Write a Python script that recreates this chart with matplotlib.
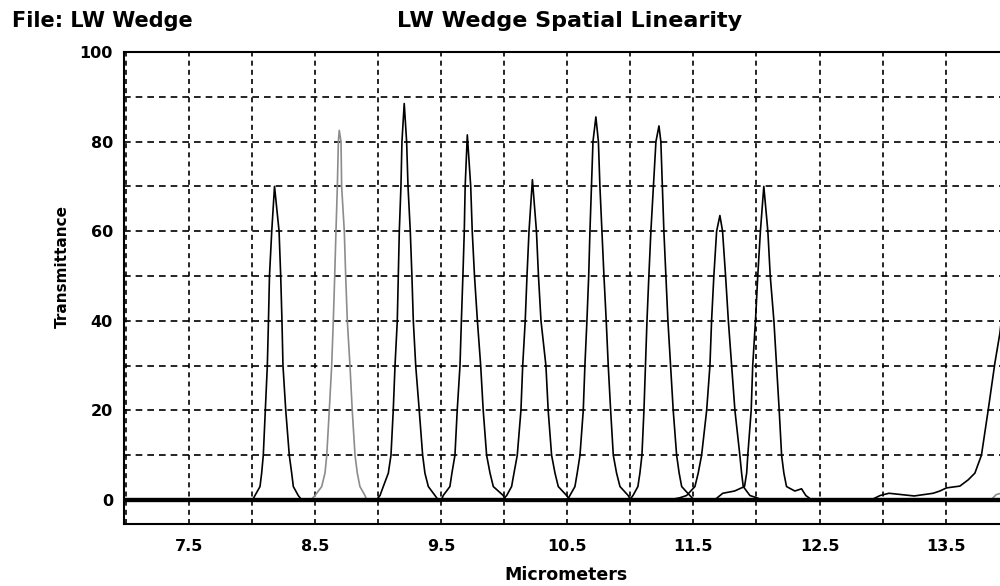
import matplotlib
matplotlib.use("Agg")
import matplotlib.pyplot as plt
from matplotlib.ticker import MultipleLocator, FixedLocator

plt.rcParams['font.family'] = ['DejaVu Sans']

# one trace per wedge position
x1 = [7.0, 8.010, 8.025, 8.065, 8.078, 8.091, 8.107, 8.123, 8.132, 8.140, 8.158, 8.180,
      8.216, 8.229, 8.239, 8.247, 8.269, 8.297, 8.316, 8.329, 8.368, 8.390, 14.0]
y1 = [0.2, 0.2, 1, 3, 6, 10, 20, 30, 40, 50, 60, 70,
      60, 50, 40, 30, 20, 10, 6, 3, 1, 0.2, 0.2]

x2 = [7.0, 8.461, 8.501, 8.554, 8.580, 8.594, 8.614, 8.633, 8.646, 8.657, 8.667, 8.678, 8.686, 8.693,
      8.707, 8.712, 8.733, 8.744, 8.757, 8.778, 8.796, 8.818, 8.836, 8.857, 8.897, 8.913,
      13.85, 13.90, 13.95]
y2 = [-0.2, -0.2, 1, 3, 6, 10, 20, 30, 40, 50, 60, 70, 80, 82.5,
      80, 70, 60, 50, 40, 30, 20, 10, 6, 3, 1, -0.2,
      -0.2, 1.2, 1.6]

x3 = [7.0, 8.990, 9.016, 9.042, 9.082, 9.103, 9.121, 9.135, 9.153, 9.161, 9.169, 9.182, 9.190, 9.208,
      9.227, 9.238, 9.256, 9.269, 9.280, 9.299, 9.327, 9.354, 9.372, 9.399, 9.452, 9.475, 14.0]
y3 = [0.1, 0.1, 1, 3, 6, 10, 20, 30, 40, 50, 60, 70, 80, 88.5,
      80, 70, 60, 50, 40, 30, 20, 10, 6, 3, 1, 0.1, 0.1]

x4 = [7.0, 9.499, 9.517, 9.570, 9.586, 9.610, 9.628, 9.650, 9.661, 9.673, 9.684, 9.691, 9.708,
      9.735, 9.747, 9.765, 9.788, 9.814, 9.834, 9.861, 9.888, 9.914, 9.993, 10.014, 14.0]
y4 = [-0.3, -0.3, 1, 3, 6, 10, 20, 30, 40, 50, 60, 70, 81.5,
      70, 60, 50, 40, 30, 20, 10, 6, 3, 1, -0.3, -0.3]

x5 = [7.0, 9.998, 10.020, 10.059, 10.078, 10.104, 10.133, 10.147, 10.167, 10.181, 10.197, 10.224,
      10.256, 10.272, 10.292, 10.331, 10.349, 10.376, 10.403, 10.429, 10.495, 10.513, 14.0]
y5 = [0.3, 0.3, 1, 3, 6, 10, 20, 30, 40, 50, 60, 71.5,
      60, 50, 40, 30, 20, 10, 6, 3, 1, 0.3, 0.3]

x6 = [7.0, 10.498, 10.521, 10.561, 10.579, 10.601, 10.627, 10.640, 10.656, 10.670, 10.680, 10.692, 10.704, 10.727,
      10.747, 10.759, 10.775, 10.791, 10.809, 10.825, 10.844, 10.865, 10.891, 10.918, 10.983, 11.005, 14.0]
y6 = [-0.1, -0.1, 1, 3, 6, 10, 20, 30, 40, 50, 60, 70, 80, 85.5,
      80, 70, 60, 50, 40, 30, 20, 10, 6, 3, 1, -0.1, -0.1]

x7 = [7.0, 10.997, 11.021, 11.060, 11.076, 11.092, 11.108, 11.120, 11.132, 11.147, 11.163, 11.183, 11.203, 11.227,
      11.242, 11.254, 11.266, 11.282, 11.298, 11.319, 11.340, 11.367, 11.387, 11.407, 11.472, 11.503, 14.0]
y7 = [0.1, 0.1, 1, 3, 6, 10, 20, 30, 40, 50, 60, 70, 80, 83.5,
      80, 70, 60, 50, 40, 30, 20, 10, 6, 3, 1, 0.1, 0.1]

x8 = [7.0, 11.274, 11.393, 11.446, 11.512, 11.538, 11.565, 11.605, 11.631, 11.644, 11.662, 11.684, 11.710,
      11.731, 11.755, 11.777, 11.803, 11.829, 11.868, 11.882, 11.895, 11.948, 12.001, 12.067, 14.0]
y8 = [-0.2, -0.2, 0.5, 1, 3, 6, 10, 20, 30, 40, 50, 60, 63.5,
      60, 50, 40, 30, 20, 10, 6, 3, 1, 0.5, -0.2, -0.2]

x9 = [7.0, 11.667, 11.733, 11.826, 11.905, 11.922, 11.931, 11.958, 11.970, 11.992, 12.010, 12.031, 12.058,
      12.090, 12.109, 12.138, 12.159, 12.180, 12.199, 12.217, 12.238, 12.304, 12.357, 12.391, 12.439, 14.0]
y9 = [0.0, 0.0, 1.5, 2, 3, 6, 10, 20, 30, 40, 50, 60, 70,
      60, 50, 40, 30, 20, 10, 6, 3, 2, 2.5, 1, 0.0, 0.0]

x10 = [7.0, 12.90, 12.98, 13.05, 13.15, 13.25, 13.40, 13.453, 13.506, 13.612, 13.678, 13.731,
       13.783, 13.836, 13.889, 13.929, 13.96]
y10 = [-0.1, -0.1, 1.0, 1.5, 1.2, 0.9, 1.5, 2.0, 2.7, 3.1, 4.5, 6,
       10, 20, 30.5, 37.2, 45]

traces = [(x1, y1), (x2, y2), (x3, y3), (x4, y4), (x5, y5),
          (x6, y6), (x7, y7), (x8, y8), (x9, y9), (x10, y10)]
trace_colors = ['black', '#8c8c8c', 'black', 'black', 'black',
                'black', 'black', 'black', 'black', 'black']

x_labels = [7.5, 8.5, 9.5, 10.5, 11.5, 12.5, 13.5]
y_labels = [0, 20, 40, 60, 80, 100]

fig = plt.figure(figsize=(10, 5.86), dpi=100)
ax = fig.add_axes([0.124, 1 - 524 / 586, 1.0 - 0.124, (524 - 52) / 586])

for (xs, ys), c in zip(traces, trace_colors):
    ax.plot(xs, ys, color=c, lw=1.2, zorder=3)

ax.set_xlim(6.987, 13.93)
ax.set_ylim(-5.36, 100)

ax.xaxis.set_major_locator(FixedLocator(x_labels))
ax.xaxis.set_minor_locator(MultipleLocator(1.0))
ax.yaxis.set_major_locator(FixedLocator(y_labels))
ax.yaxis.set_minor_locator(MultipleLocator(10))
ax.set_xticklabels([str(v) for v in x_labels])
ax.set_yticklabels([str(v) for v in y_labels])

ax.set_axisbelow(True)
ax.xaxis.grid(True, which='both', color='black', lw=1.2, linestyle=(0, (3, 2.5)))
ax.yaxis.grid(True, which='both', color='black', lw=1.2, linestyle=(0, (4, 3)))

ax.tick_params(which='both', length=0)
ax.tick_params(axis='x', pad=11)
ax.tick_params(axis='y', pad=8)
for lab in ax.get_xticklabels() + ax.get_yticklabels():
    lab.set_fontweight('bold')
    lab.set_fontsize(11.5)

for side in ['left', 'bottom', 'top']:
    ax.spines[side].set_linewidth(1.5)
    ax.spines[side].set_color('black')
ax.spines['right'].set_visible(False)

fig.text(0.012, 1 - 21 / 586, 'File: LW Wedge', ha='left', va='center',
         fontsize=15, fontweight='bold')
fig.text(0.570, 1 - 21 / 586, 'LW Wedge Spatial Linearity', ha='center', va='center',
         fontsize=16, fontweight='bold')
fig.text(0.5655, 1 - 575 / 586, 'Micrometers', ha='center', va='center',
         fontsize=12.5, fontweight='bold')
fig.text(0.062, 1 - 267 / 586, 'Transmittance', ha='center', va='center',
         rotation=90, fontsize=11, fontweight='bold')

fig.savefig('out.png', dpi=100)
